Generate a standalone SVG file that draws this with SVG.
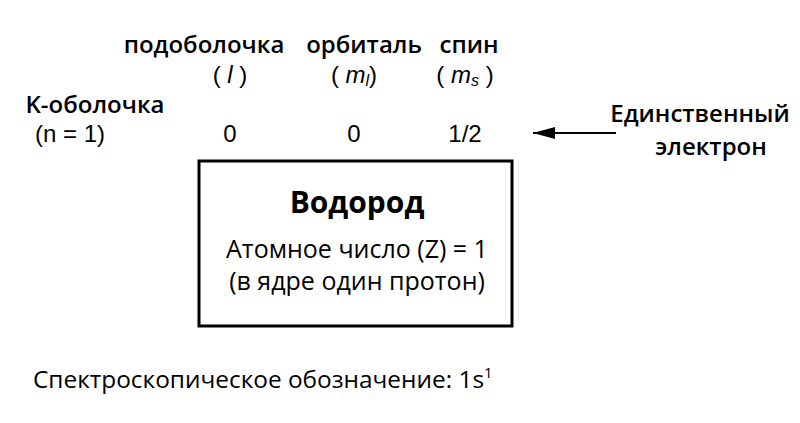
<svg xmlns="http://www.w3.org/2000/svg" width="800" height="423" viewBox="0 0 800 423">
<style>
.h{font-family:"Open Sans","Noto Sans",sans-serif;font-size:24px;font-weight:600;fill:#000}
.n{font-family:"Liberation Sans",Arial,sans-serif;font-size:24px;fill:#000}
.b{font-family:"Open Sans","Noto Sans",sans-serif;font-size:25px;fill:#000}
</style>
<defs>
<marker id="ah" markerWidth="22" markerHeight="12" refX="22" refY="6" orient="auto" markerUnits="userSpaceOnUse">
<path d="M0,0 L22,6 L0,12 Z" fill="#000"/>
</marker>
</defs>
<rect width="800" height="423" fill="#fff"/>
<g id="headers">
<text class="h" x="204" y="53" text-anchor="middle">подоболочка</text>
<text class="h" x="364" y="53" text-anchor="middle">орбиталь</text>
<text class="h" x="469" y="53" text-anchor="middle">спин</text>
<text class="n" x="230" y="83" text-anchor="middle">( <tspan font-style="italic">l</tspan> )</text>
<text class="n" x="354" y="83" text-anchor="middle">( <tspan font-style="italic">m</tspan><tspan font-style="italic" font-size="16" dy="3">l</tspan><tspan dy="-3">)</tspan></text>
<text class="n" x="465" y="83" text-anchor="middle">( <tspan font-style="italic">m</tspan><tspan font-style="italic" font-size="16" dy="3">s</tspan><tspan dy="-3"> )</tspan></text>
</g>
<g id="shell">
<text class="h" x="95" y="113" text-anchor="middle">K-оболочка</text>
<text class="n" x="70" y="142" text-anchor="middle">(n = 1)</text>
<text class="n" x="230" y="142" text-anchor="middle">0</text>
<text class="n" x="354" y="142" text-anchor="middle">0</text>
<text class="n" x="465" y="142" text-anchor="middle">1/2</text>
</g>
<g id="electron">
<text class="h" x="700" y="122" text-anchor="middle">Единственный</text>
<text class="h" x="711" y="155" text-anchor="middle">электрон</text>
</g>
<g id="connectors">
<line x1="616" y1="133" x2="533" y2="133" stroke="#000" stroke-width="2" marker-end="url(#ah)"/>
</g>
<g id="hydrogen">
<rect x="199" y="161" width="313" height="165" fill="#fff" stroke="#000" stroke-width="3"/>
<text x="357" y="213" text-anchor="middle" style="font-family:'Open Sans','Noto Sans',sans-serif;font-size:30px;font-weight:700">Водород</text>
<text class="b" x="357" y="258" text-anchor="middle">Атомное число (Z) = 1</text>
<text class="b" x="357" y="290" text-anchor="middle">(в ядре один протон)</text>
</g>
<g id="notation">
<text class="b" x="33" y="388" style="font-size:24.4px">Спектроскопическое обозначение: 1s<tspan font-size="15" dy="-10">1</tspan></text>
</g>
</svg>
